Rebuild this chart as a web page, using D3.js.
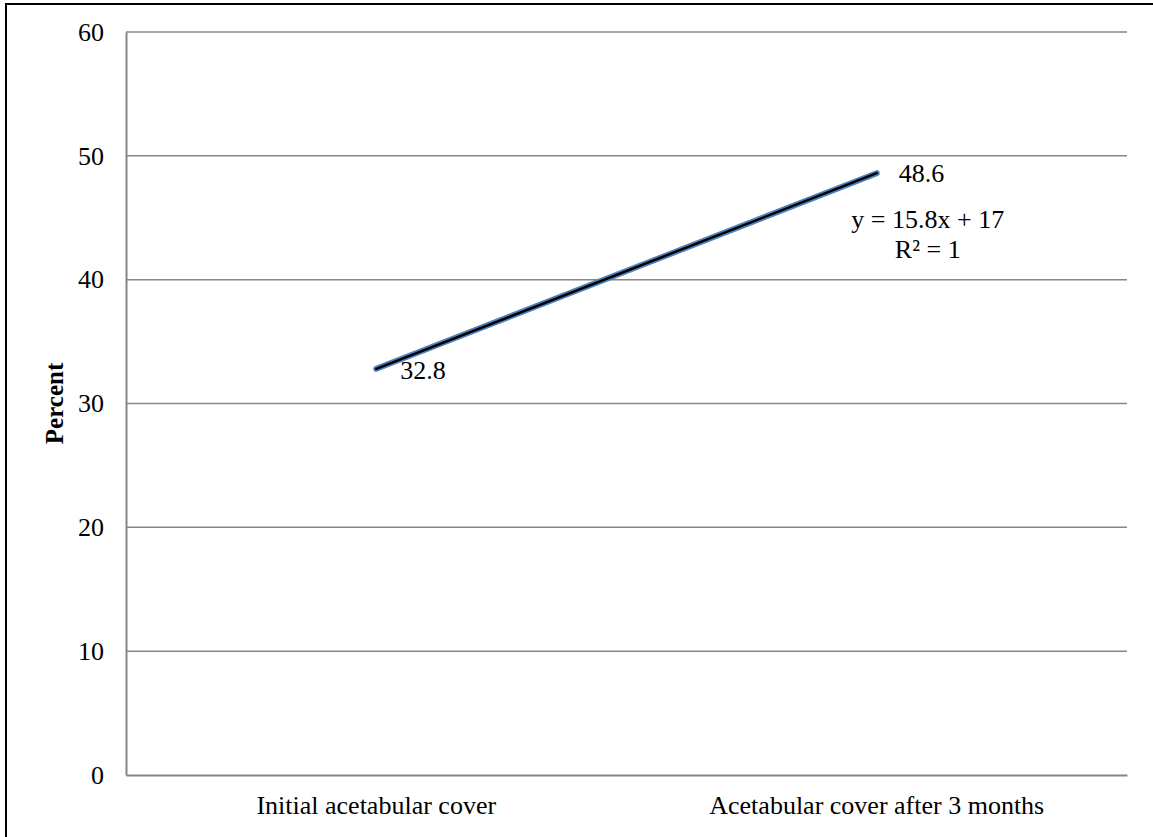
<!DOCTYPE html>
<html>
<head>
<meta charset="utf-8">
<script src="https://cdn.jsdelivr.net/npm/d3@7"></script>
<style>
  html, body { margin: 0; padding: 0; background: #fff; }
  svg { display: block; }
  text { font-family: "Liberation Serif", "Times New Roman", serif; fill: #000; }
</style>
</head>
<body>
<svg id="chart" width="1153" height="837"></svg>
<script>
// Chart data
const categories = ["Initial acetabular cover", "Acetabular cover after 3 months"];
const values = [32.8, 48.6];
const yTicks = [0, 10, 20, 30, 40, 50, 60];
const yLabel = "Percent";

const W = 1153, H = 837;
const plot = { left: 126, right: 1127, top: 32, bottom: 775 };
const serif = '"Liberation Serif", "Times New Roman", serif';

const svg = d3.select("#chart");

// Frame around the chart area
svg.append("rect")
  .attr("x", 6).attr("y", 4)
  .attr("width", W + 10).attr("height", H + 10)
  .attr("fill", "none").attr("stroke", "#000").attr("stroke-width", 2);

const x = d3.scaleBand().domain(categories).range([plot.left, plot.right]).padding(0);
const y = d3.scaleLinear().domain([0, 60]).range([plot.bottom, plot.top]);

// Horizontal gridlines
svg.append("g")
  .selectAll("line")
  .data(yTicks.filter(t => t > 0))
  .join("line")
  .attr("x1", plot.left).attr("x2", plot.right)
  .attr("y1", d => y(d)).attr("y2", d => y(d))
  .attr("stroke", "#868686").attr("stroke-width", 1.5);

// Y axis
const yAxis = svg.append("g")
  .attr("transform", `translate(${plot.left},0)`)
  .call(d3.axisLeft(y).tickValues(yTicks).tickSize(0).tickPadding(22).tickFormat(d3.format("d")));
yAxis.attr("font-family", serif);
yAxis.select(".domain").attr("stroke", "#868686").attr("stroke-width", 2);
yAxis.selectAll("text")
  .style("font-family", serif)
  .style("font-size", "26px")
  .attr("dy", "0.32em");

// X axis
const xAxis = svg.append("g")
  .attr("transform", `translate(0,${plot.bottom})`)
  .call(d3.axisBottom(x).tickSize(0).tickPadding(21));
xAxis.attr("font-family", serif);
xAxis.select(".domain").attr("stroke", "#868686").attr("stroke-width", 2);
xAxis.selectAll("text")
  .style("font-family", serif)
  .style("font-size", "26px")
  .attr("dy", "0.71em");

// Y axis title
svg.append("text")
  .attr("transform", `translate(63,${(plot.top + plot.bottom) / 2}) rotate(-90)`)
  .attr("text-anchor", "middle")
  .style("font-size", "25px")
  .style("font-weight", "bold")
  .text(yLabel);

// Data series
const pts = categories.map((c, i) => ({ c, v: values[i], xi: i + 1 }));
const cx = d => x(d.c) + x.bandwidth() / 2;

svg.append("path")
  .datum(pts)
  .attr("d", d3.line().x(cx).y(d => y(d.v)))
  .attr("fill", "none")
  .attr("stroke", "#4F81BD")
  .attr("stroke-width", 6)
  .attr("stroke-linecap", "round");

// Linear trendline (least squares on category index 1..n)
const mx = d3.mean(pts, d => d.xi), my = d3.mean(pts, d => d.v);
const slope = d3.sum(pts, d => (d.xi - mx) * (d.v - my)) / d3.sum(pts, d => (d.xi - mx) ** 2);
const intercept = my - slope * mx;
const ssTot = d3.sum(pts, d => (d.v - my) ** 2);
const ssRes = d3.sum(pts, d => (d.v - (slope * d.xi + intercept)) ** 2);
const r2 = 1 - ssRes / ssTot;

const trend = pts.map(d => ({ c: d.c, v: slope * d.xi + intercept }));
svg.append("path")
  .datum(trend)
  .attr("d", d3.line().x(cx).y(d => y(d.v)))
  .attr("fill", "none")
  .attr("stroke", "#000")
  .attr("stroke-width", 2.5)
  .attr("stroke-linecap", "round");

// Data labels
svg.append("g")
  .selectAll("text")
  .data(pts)
  .join("text")
  .attr("x", d => cx(d) + (d.xi === 1 ? 24 : 22))
  .attr("y", d => y(d.v) + (d.xi === 1 ? 10 : 9))
  .style("font-size", "26px")
  .text(d => d3.format(".1f")(d.v));

// Trendline equation
const last = pts[pts.length - 1];
const eqX = cx(last) + 51;
svg.append("text")
  .attr("x", eqX).attr("y", 228)
  .attr("text-anchor", "middle")
  .style("font-size", "26px")
  .text(`y = ${d3.format(".1f")(slope)}x + ${d3.format("d")(intercept)}`);
svg.append("text")
  .attr("x", eqX).attr("y", 258)
  .attr("text-anchor", "middle")
  .style("font-size", "26px")
  .text(`R² = ${d3.format("d")(r2)}`);
</script>
</body>
</html>
